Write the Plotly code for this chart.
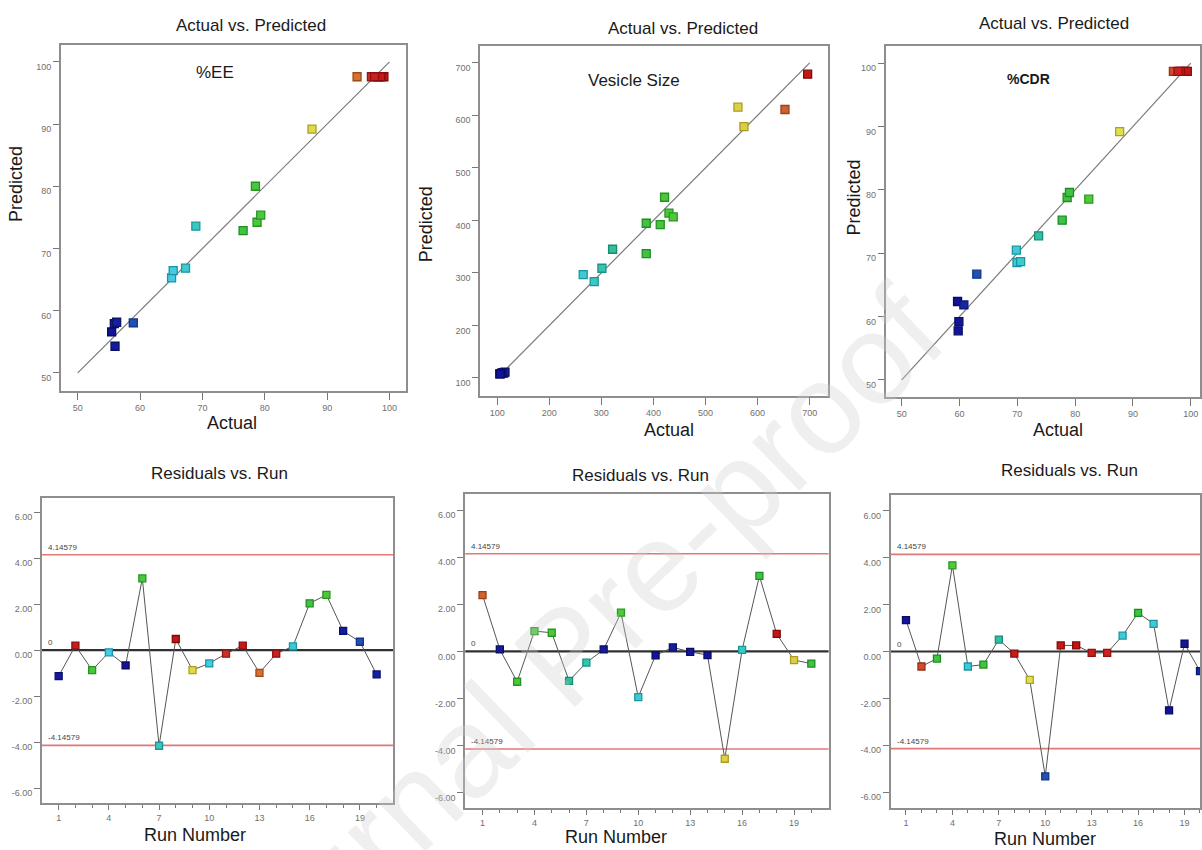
import plotly.graph_objects as go

W, H = 1202, 850

runs = list(range(1, 21))
limit = 4.14579

# %EE, run order
ee_actual = [55.87, 98.2, 78.5, 65.05, 55.44, 78.76, 68.94, 99.1, 87.57, 65.31,
             97.1, 98.6, 94.8, 97.6, 67.29, 76.52, 79.35, 55.98, 58.91, 56.24]
ee_predicted = [57.93, 97.6, 80.0, 65.27, 56.6, 74.22, 73.58, 97.6, 89.17, 66.45,
                97.6, 97.6, 97.6, 97.6, 66.83, 72.88, 75.35, 54.29, 58.04, 58.15]
ee_residual = [-1.13, 0.19, -0.87, -0.10, -0.67, 3.12, -4.16, 0.48, -0.87, -0.58,
               -0.16, 0.19, -0.99, -0.16, 0.16, 2.03, 2.40, 0.83, 0.36, -1.06]

# Vesicle size, run order
vs_actual = [652.6, 112, 421.4, 413.1, 429.8, 321.6, 301.1, 112.5, 438.1, 265.2,
             105, 115, 109, 106, 562.3, 286.3, 386.2, 696.1, 573.8, 386.2]
vs_predicted = [611.1, 110, 444.1, 392.1, 413.7, 345.1, 308.9, 110, 406.7, 296.8,
                108, 111, 109.5, 108, 615.6, 283.5, 336.8, 678.4, 578.7, 394.6]
vs_residual = [2.39, 0.08, -1.29, 0.86, 0.79, -1.25, -0.48, 0.08, 1.64, -1.94,
               -0.17, 0.17, -0.02, -0.16, -4.56, 0.06, 3.20, 0.74, -0.37, -0.52]

# %CDR, run order
cdr_actual = [59.77, 97.0, 78.62, 82.36, 69.83, 79.02, 73.68, 98.6, 87.7, 62.99,
              99.1, 99.4, 98.2, 97.8, 69.94, 77.76, 70.57, 59.66, 59.89, 60.75]
cdr_predicted = [57.74, 98.7, 78.79, 78.53, 70.47, 79.58, 72.74, 98.7, 89.2, 66.68,
                 98.7, 98.7, 98.7, 98.7, 68.53, 75.21, 68.68, 62.37, 59.21, 61.84]
cdr_residual = [1.34, -0.64, -0.30, 3.68, -0.64, -0.56, 0.51, -0.09, -1.21, -5.33,
                0.26, 0.26, -0.06, -0.06, 0.68, 1.65, 1.18, -2.51, 0.33, -0.84]

ee_fit = [50, 100]
vs_fit = [115, 700]
cdr_fit = [50, 100]

ee_ticks = [50, 60, 70, 80, 90, 100]
vs_ticks = [100, 200, 300, 400, 500, 600, 700]
cdr_ticks = [50, 60, 70, 80, 90, 100]
resid_ticks = [-6, -4, -2, 0, 2, 4, 6]
run_ticks = [1, 4, 7, 10, 13, 16, 19]

# response-value colour ramp (blue -> cyan -> green -> yellow -> red)
fill_scale = [
    [0.00, "#12129a"], [0.08, "#2050b4"], [0.22, "#44cce2"], [0.30, "#3cc8c8"],
    [0.37, "#32bc9a"], [0.45, "#3cc244"], [0.58, "#54c83a"], [0.70, "#e0e050"],
    [0.80, "#dccc46"], [0.90, "#d8702e"], [0.93, "#d06030"], [0.96, "#cc2222"],
    [1.00, "#c41616"],
]
edge_scale = [
    [0.00, "#0a0a62"], [0.08, "#123284"], [0.22, "#1a92aa"], [0.30, "#1a9a9a"],
    [0.37, "#188a68"], [0.45, "#1a8a24"], [0.58, "#2a9a20"], [0.70, "#a6a622"],
    [0.80, "#aa9a22"], [0.90, "#a04a18"], [0.93, "#984018"], [0.96, "#901212"],
    [1.00, "#800a0a"],
]

FONT = "Liberation Sans, Arial, sans-serif"
TICK_FONT = dict(family=FONT, size=9, color="#707070")
BOX = "#8e8e8e"


def dom_x(a, b):
    return [a / W, b / W]


def dom_y(top, bottom):
    return [1 - bottom / H, 1 - top / H]


panels = [
    # (x px, y px, x range, y range)
    ((61, 407), (45, 391), [47.3, 102.7], [47.1, 102.7]),
    ((481, 829), (46, 396), [67.4, 734.5], [65.7, 732.0]),
    ((887, 1202), (46, 397), [47.2, 101.6], [47.3, 102.7]),
    ((42, 394), (498, 803), [0, 21], [-6.65, 6.61]),
    ((466, 830), (494, 808), [0, 21], [-6.65, 6.68]),
    ((892, 1202), (495, 808), [0, 20.0], [-6.68, 6.68]),
]

fig = go.Figure()
layout = {}
for i, (xp, yp, xr, yr) in enumerate(panels, start=1):
    sfx = "" if i == 1 else str(i)
    resid = i > 3
    xa = dict(
        domain=dom_x(*xp), range=xr, anchor="y" + sfx, showgrid=False, zeroline=False,
        showline=True, mirror=True, linecolor=BOX, linewidth=1.6,
        ticks="outside", ticklen=5 if resid else 7, tickwidth=1, tickcolor="#777",
        tickfont=TICK_FONT,
    )
    ya = dict(
        domain=dom_y(*yp), range=yr, anchor="x" + sfx, showgrid=False, zeroline=False,
        showline=True, mirror=True, linecolor=BOX, linewidth=1.6,
        ticks="outside", ticklen=6, tickwidth=1, tickcolor="#777",
        tickfont=TICK_FONT, ticklabelshift=5,
    )
    if resid:
        xa.update(tickmode="array", tickvals=run_ticks,
                  minor=dict(tickmode="array", tickvals=runs, ticks="outside",
                             ticklen=3, tickcolor="#777"))
        ya.update(tickmode="array", tickvals=resid_ticks,
                  ticktext=[f"{v:.2f}" for v in resid_ticks])
    else:
        t = [ee_ticks, vs_ticks, cdr_ticks][i - 1]
        xa.update(tickmode="array", tickvals=t)
        ya.update(tickmode="array", tickvals=t)
    layout["xaxis" + sfx] = xa
    layout["yaxis" + sfx] = ya

responses = [
    (ee_actual, ee_predicted, ee_residual, ee_fit),
    (vs_actual, vs_predicted, vs_residual, vs_fit),
    (cdr_actual, cdr_predicted, cdr_residual, cdr_fit),
]


def marker(vals, size):
    lo, hi = min(vals), max(vals)
    return dict(
        symbol="square", size=size, color=vals, colorscale=fill_scale, cmin=lo, cmax=hi,
        line=dict(width=1.3, color=vals, colorscale=edge_scale, cmin=lo, cmax=hi),
    )


for k, (act, pred, res, fit) in enumerate(responses):
    top = "" if k == 0 else str(k + 1)
    bot = str(k + 4)
    # Actual vs. Predicted: y = x reference line plus points
    fig.add_trace(go.Scatter(x=fit, y=fit, mode="lines", xaxis="x" + top, yaxis="y" + top,
                             line=dict(color="#7a7a7a", width=1.2), hoverinfo="skip"))
    fig.add_trace(go.Scatter(x=act, y=pred, mode="markers", xaxis="x" + top, yaxis="y" + top,
                             marker=marker(act, 8)))
    # Residuals vs. Run: control limits and zero line
    for yv, col, wd in [(limit, "#e07878", 1.6), (-limit, "#e07878", 1.6), (0, "#303030", 2.2)]:
        fig.add_shape(type="line", xref=f"x{bot} domain", yref="y" + bot,
                      x0=0, x1=1, y0=yv, y1=yv, line=dict(color=col, width=wd), layer="below")
    for yv, txt in [(limit, f"{limit:g}"), (0, "0"), (-limit, f"{-limit:g}")]:
        fig.add_annotation(xref=f"x{bot} domain", yref="y" + bot, x=0, y=yv, xshift=4, yshift=1,
                           text=txt, showarrow=False, xanchor="left", yanchor="bottom",
                           font=dict(family=FONT, size=8, color="#444"))
    fig.add_trace(go.Scatter(x=runs, y=res, mode="lines+markers", xaxis="x" + bot, yaxis="y" + bot,
                             line=dict(color="#555555", width=1), marker=marker(act, 7)))


def paper(xpx, ypx):
    return xpx / W, 1 - ypx / H


texts = [
    ("Actual vs. Predicted", 251, 25, 17, 0),
    ("Actual vs. Predicted", 684, 28, 17, 0),
    ("Actual vs. Predicted", 1056, 24, 17, 0),
    ("Residuals vs. Run", 220, 473, 17, 0),
    ("Residuals vs. Run", 642, 475, 17, 0),
    ("Residuals vs. Run", 1071, 470, 17, 0),
    ("Actual", 232, 423, 18, 0),
    ("Actual", 670, 430, 18, 0),
    ("Actual", 1060, 430, 18, 0),
    ("Predicted", 16, 184, 18, -90),
    ("Predicted", 427, 224, 18, -90),
    ("Predicted", 855, 198, 18, -90),
    ("Run Number", 195, 835, 18, 0),
    ("Run Number", 617, 837, 18, 0),
    ("Run Number", 1047, 839, 18, 0),
    ("%EE", 215, 72, 17, 0),
    ("Vesicle Size", 635, 80, 17, 0),
    ("<b>%CDR</b>", 1030, 79, 14, 0),
]
for txt, xpx, ypx, size, ang in texts:
    px, py = paper(xpx, ypx)
    fig.add_annotation(xref="paper", yref="paper", x=px, y=py, text=txt, showarrow=False,
                       xanchor="center", yanchor="middle", textangle=ang,
                       font=dict(family=FONT, size=size, color="#1a1a1a"))

# diagonal watermark
wx, wy = paper(565, 655)
fig.add_annotation(xref="paper", yref="paper", x=wx, y=wy, text="Journal Pre-proof",
                   showarrow=False, textangle=-44, xanchor="center", yanchor="middle",
                   font=dict(family=FONT, size=128, color="rgba(205,205,205,0.33)"))

fig.update_layout(
    width=W, height=H, margin=dict(l=0, r=0, t=0, b=0),
    paper_bgcolor="white", plot_bgcolor="white", showlegend=False,
    **layout,
)

fig.write_html("out.html")
